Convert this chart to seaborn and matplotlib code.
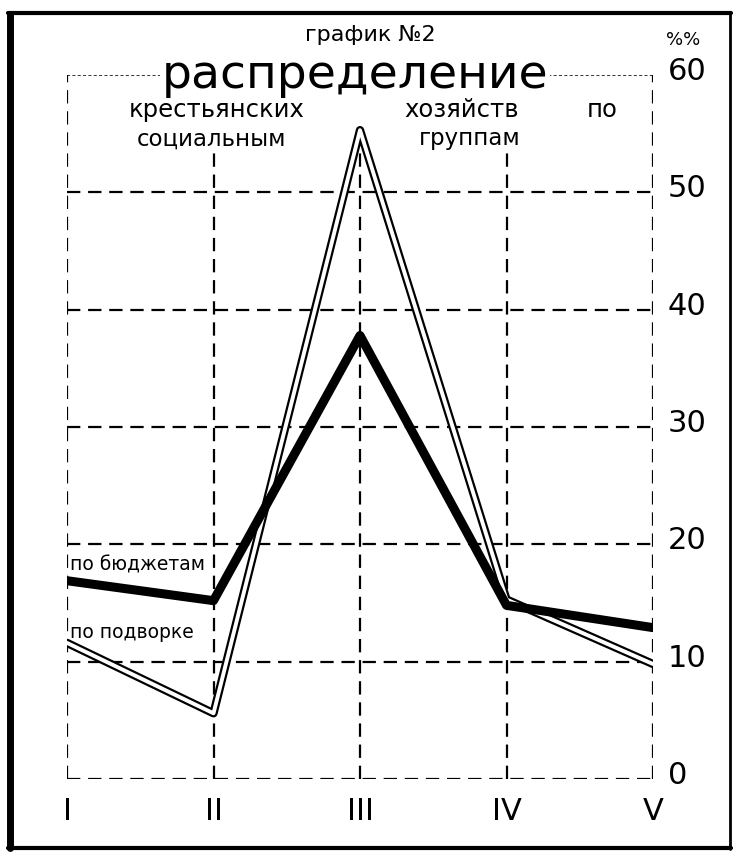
import matplotlib
matplotlib.use('Agg')
import matplotlib.pyplot as plt
import seaborn as sns
import pandas as pd
from matplotlib.lines import Line2D

# --- Data ---
groups = ['I', 'II', 'III', 'IV', 'V']
budgets = [16.9, 15.2, 37.8, 14.8, 12.9]      # по бюджетам
household = [11.6, 5.6, 55.3, 15.3, 9.8]      # по подворке
y_ticks = [0, 10, 20, 30, 40, 50, 60]

df = pd.DataFrame({'x': range(len(groups)), 'budgets': budgets, 'household': household})

sns.set_theme(style='white')
plt.rcParams['font.family'] = ['DejaVu Sans']
plt.rcParams['text.color'] = 'black'

fig = plt.figure(figsize=(7.39, 8.57), dpi=100)
ax = fig.add_axes([67 / 739, 78 / 857, 586 / 739, 704 / 857])
ax.set_xlim(0, 4)
ax.set_ylim(0, 60)
ax.axis('off')

# dashed grid, inner verticals stop below the subtitle
dash = dict(color='black', lw=1.6, ls=(0, (6, 3.5)))
for i in range(len(groups)):
    top = 60 if i in (0, len(groups) - 1) else 53.4
    ax.plot([i, i], [0, top], **dash)
for v in y_ticks[:-1]:
    ax.plot([0, 4], [v, v], **dash)
ax.plot([0, 4], [60, 60], color='black', lw=1.1, ls=(0, (2, 1.5)))

# double line: black outline with white core
sns.lineplot(data=df, x='x', y='household', ax=ax, color='black', lw=6, zorder=3)
sns.lineplot(data=df, x='x', y='household', ax=ax, color='white', lw=2.8, zorder=4)
# thick line
sns.lineplot(data=df, x='x', y='budgets', ax=ax, color='black', lw=6.5, zorder=5)

# axis labels
for i, g in enumerate(groups):
    ax.text(i, -2.8, g, ha='center', va='center', fontsize=22)
for v in y_ticks:
    ax.text(4.1, v + 0.3, str(v), ha='left', va='center', fontsize=22)

ax.text(0.02, 18.2, 'по бюджетам', ha='left', va='center', fontsize=13.5)
ax.text(0.02, 12.5, 'по подворке', ha='left', va='center', fontsize=13.5)

# titles
W, H = 739, 857
fig.text(370 / W, 1 - 35 / H, 'график №2', ha='center', va='center', fontsize=16)
fig.text(683 / W, 1 - 40 / H, '%%', ha='center', va='center', fontsize=13)
fig.text(355 / W, 1 - 76 / H, 'распределение', ha='center', va='center', fontsize=34,
         bbox=dict(facecolor='white', edgecolor='none', pad=1))
for word, xc in [('крестьянских', 217), ('хозяйств', 462), ('по', 602)]:
    fig.text(xc / W, 1 - 110 / H, word, ha='center', va='center', fontsize=17.5)
for word, xc in [('социальным', 212), ('группам', 470)]:
    fig.text(xc / W, 1 - 139 / H, word, ha='center', va='center', fontsize=16.5)

# frame around figure
fig.add_artist(Line2D([10 / W, 10 / W], [1 - 14 / H, 1 - 848 / H], color='black', lw=5))
fig.add_artist(Line2D([8 / W, 731 / W], [1 - 13 / H, 1 - 13 / H], color='black', lw=3))
fig.add_artist(Line2D([730 / W, 730 / W], [1 - 13 / H, 1 - 849 / H], color='black', lw=2))
fig.add_artist(Line2D([8 / W, 731 / W], [1 - 848 / H, 1 - 848 / H], color='black', lw=3))

fig.savefig('out.png', dpi=100, facecolor='white')
